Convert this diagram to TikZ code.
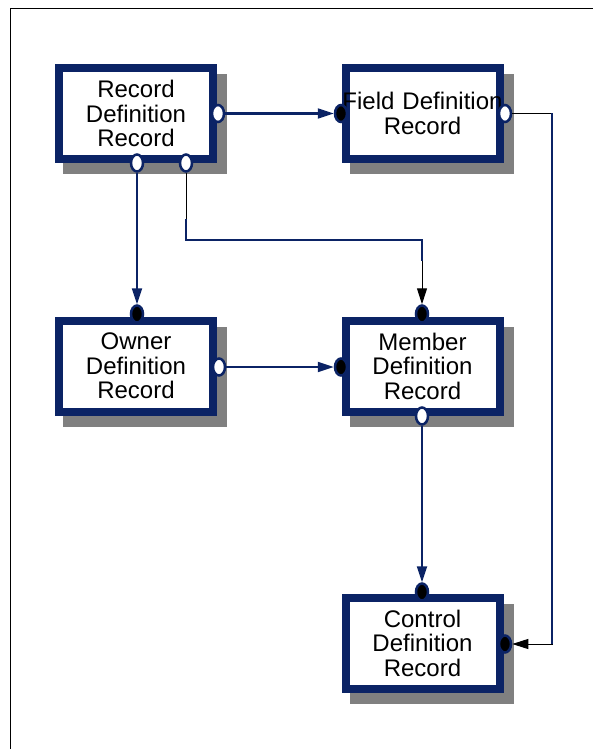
\documentclass[tikz,border=0pt]{standalone}
\usepackage{fontspec}
\setmainfont{Liberation Sans}
\usetikzlibrary{arrows.meta,shapes.geometric}
\definecolor{navy}{RGB}{11,35,101}
\definecolor{shadowgray}{RGB}{128,128,128}

\begin{document}
\begin{tikzpicture}[x=1pt, y=-1pt,
    recbox/.style={draw=navy, line width=8pt, fill=white,
        minimum width=154pt, minimum height=91pt, inner sep=0pt,
        text width=140pt, align=center,
        font=\fontsize{24}{24.5}\selectfont},
    opencon/.style={ellipse, draw=navy, line width=2.5pt, fill=white,
        minimum width=12pt, minimum height=17pt, inner sep=0pt},
    closedcon/.style={opencon, fill=black},
    link/.style={draw=navy, line width=2.2pt},
    thinlink/.style={draw=black, line width=1pt},
    navytip/.style={-{Triangle[length=16pt, width=10pt]}},
    blacktip/.style={-{Triangle[length=16pt, width=10pt, color=black]}}]
    \useasboundingbox (0,0) rectangle (593,749);
    \draw[line width=1.2pt] (10.5,749) -- (10.5,8.5) -- (593,8.5);

    \foreach \x/\y in {136/113.5, 422.5/113.5, 136/366, 422.5/366, 422.5/643}
        \fill[shadowgray] (\x-73,\y-39.5) rectangle (\x+91,\y+60.5);

    \node[recbox] (rdr) at (136,113.5) {Record\\Definition\\Record};
    \node[recbox] (fdr) at (422.5,113.5) {\makebox[140pt]{Field Definition}\\Record};
    \node[recbox] (odr) at (136,366) {Owner\\Definition\\Record};
    \node[recbox] (mdr) at (422.5,366) {Member\\Definition\\Record};
    \node[recbox] (cdr) at (422.5,643) {Control\\Definition\\Record};

    \node[opencon]   (rdr-e)  at (218,113.5) {};
    \node[opencon]   (rdr-s1) at (137,163) {};
    \node[opencon]   (rdr-s2) at (186,163) {};
    \node[closedcon] (fdr-w)  at (341,113.5) {};
    \node[opencon]   (fdr-e)  at (505,113.5) {};
    \node[closedcon] (odr-n)  at (137,314) {};
    \node[opencon]   (odr-e)  at (219,367) {};
    \node[closedcon] (mdr-w)  at (341,367) {};
    \node[closedcon] (mdr-n)  at (422,314) {};
    \node[opencon]   (mdr-s)  at (422,416) {};
    \node[closedcon] (cdr-n)  at (422,592) {};
    \node[closedcon] (cdr-e)  at (505,644) {};

    \coordinate (j1a) at (186,219);
    \coordinate (j1)  at (186,240);
    \coordinate (j2)  at (422,240);
    \coordinate (j2a) at (422,261);
    \coordinate (k1)  at (552,113.5);
    \coordinate (k2)  at (552,644);

    \draw[link, navytip] (rdr-e) -- (fdr-w);
    \draw[link, navytip] (rdr-s1) -- (odr-n);
    \draw[link, navytip] (odr-e) -- (mdr-w);
    \draw[link, navytip] (mdr-s) -- (cdr-n);
    \draw[thinlink, blacktip] (rdr-s2) -- (j1) -- (j2) -- (mdr-n);
    \draw[link] (j1a) -- (j1) -- (j2) -- (j2a);
    \draw[thinlink, blacktip] (fdr-e) -- (k1) -- (k2) -- (cdr-e);
    \draw[link] (k1) -- (k2);
\end{tikzpicture}
\end{document}
